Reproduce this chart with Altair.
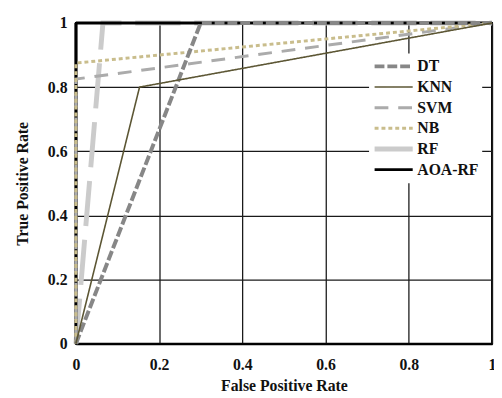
import altair as alt
import pandas as pd

models = ["DT", "KNN", "SVM", "NB", "RF", "AOA-RF"]
dt_fpr = [0.0, 0.30, 1.0]
dt_tpr = [0.0, 1.0, 1.0]
knn_fpr = [0.0, 0.153, 1.0]
knn_tpr = [0.0, 0.80, 1.0]
svm_fpr = [0.0, 0.0, 1.0]
svm_tpr = [0.0, 0.825, 1.0]
nb_fpr = [0.0, 0.0, 1.0]
nb_tpr = [0.0, 0.875, 1.0]
rf_fpr = [0.0, 0.065, 1.0]
rf_tpr = [0.0, 1.0, 1.0]
aoa_fpr = [0.0, 0.0, 1.0]
aoa_tpr = [0.0, 1.0, 1.0]

series = {
    "DT": (dt_fpr, dt_tpr),
    "KNN": (knn_fpr, knn_tpr),
    "SVM": (svm_fpr, svm_tpr),
    "NB": (nb_fpr, nb_tpr),
    "RF": (rf_fpr, rf_tpr),
    "AOA-RF": (aoa_fpr, aoa_tpr),
}
rows = []
for m, (xs, ys) in series.items():
    for i, (x, y) in enumerate(zip(xs, ys)):
        rows.append({"model": m, "fpr": x, "tpr": y, "i": i})
df = pd.DataFrame(rows)

colors = ["#878787", "#5c5634", "#ababab", "#c9bd8c", "#cbcbcb", "#000000"]
dashes = [[10, 3], [1, 0], [14, 10], [4, 3], [46, 14], [1, 0]]
widths = [4, 1.6, 3, 3, 5, 3]

font = "Liberation Serif"

def layer(m):
    return alt.Chart(df).transform_filter(alt.datum.model == m).mark_line(clip=False).encode(
        x=alt.X("fpr:Q", scale=alt.Scale(domain=[0, 1], nice=False),
                axis=alt.Axis(values=[0, 0.2, 0.4, 0.6, 0.8, 1], format="~g",
                              title="False Positive Rate")),
        y=alt.Y("tpr:Q", scale=alt.Scale(domain=[0, 1], nice=False),
                axis=alt.Axis(values=[0, 0.2, 0.4, 0.6, 0.8, 1], format="~g",
                              title="True Positive Rate")),
        order="i:Q",
        color=alt.Color("model:N", scale=alt.Scale(domain=models, range=colors),
                        legend=alt.Legend(title=None)),
        strokeDash=alt.StrokeDash("model:N", scale=alt.Scale(domain=models, range=dashes),
                                  legend=alt.Legend(title=None)),
        strokeWidth=alt.StrokeWidth("model:N", scale=alt.Scale(type="ordinal", domain=models, range=widths),
                                    legend=alt.Legend(title=None)),
    )

draw_order = ["RF", "AOA-RF", "SVM", "NB", "DT", "KNN"]
chart = alt.layer(*[layer(m) for m in draw_order]).properties(
    width=423, height=326,
    autosize=alt.AutoSizeParams(type="none"),
    padding={"left": 69, "top": 12, "right": 2, "bottom": 52},
).configure_view(
    stroke="#000000", strokeWidth=2
).configure_axis(
    grid=True, gridColor="#1a1a1a", gridWidth=1.3, gridOpacity=1,
    domainColor="#000000", domainWidth=2,
    ticks=False,
    labelFont=font, labelFontSize=16, labelFontWeight="bold", labelColor="#111",
    titleFont=font, titleFontSize=16, titleFontWeight="bold", titleColor="#111",
).configure_axisX(
    labelPadding=13, titlePadding=6, labelFlush=False,
).configure_axisY(
    labelPadding=9, titlePadding=17, labelFlush=False,
).configure_legend(
    orient="none", legendX=298, legendY=31,
    fillColor="#ffffff", padding=3,
    symbolType="stroke", symbolSize=1500, rowPadding=0, clipHeight=20.2, symbolOffset=0,
    labelFont=font, labelFontSize=16, labelFontWeight="bold", labelColor="#111",
    labelOffset=2, labelLimit=200,
)

chart.save("out.html", embed_options={"renderer": "svg", "actions": False})
